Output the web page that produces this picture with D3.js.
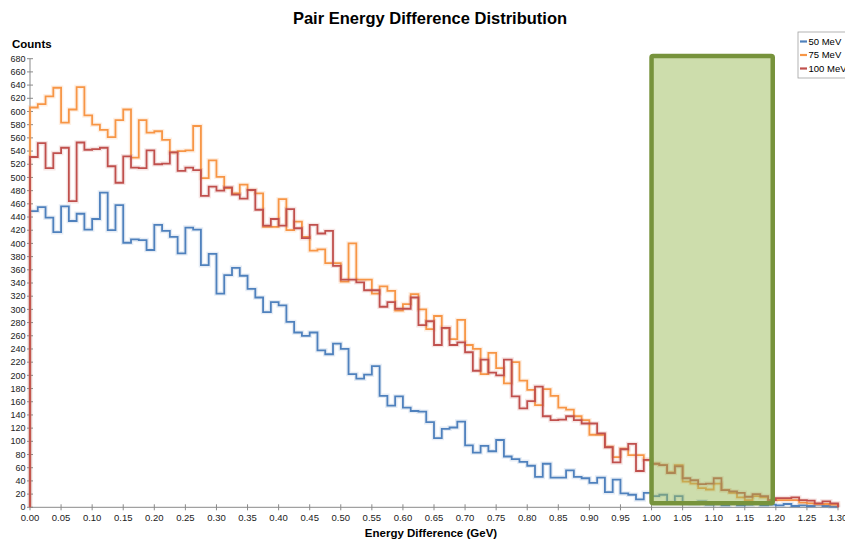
<!DOCTYPE html>
<html>
<head>
<meta charset="utf-8">
<script src="https://cdn.jsdelivr.net/npm/d3@7.9.0/dist/d3.min.js"></script>
<style>
  body { margin: 0; background: #fff; }
  svg { display: block; font-family: "Liberation Sans", Arial, sans-serif; }
</style>
</head>
<body>
<svg id="chart" width="845" height="540"></svg>
<script>
// histogram bins: 104 bins of 0.0125 GeV from 0 to 1.30
const binWidth = 0.0125;

const counts50 = [449, 455, 439, 417, 456, 434, 445, 421, 437, 477, 420, 458, 401, 406, 405, 390, 428, 419, 410, 385,
  424, 421, 367, 384, 324, 352, 363, 351, 331, 318, 296, 311, 306, 281, 265, 260, 265, 238, 232, 248,
  240, 202, 195, 201, 214, 169, 154, 168, 151, 146, 145, 129, 105, 119, 121, 130, 94, 83, 93, 85,
  102, 77, 73, 69, 63, 46, 66, 45, 45, 56, 46, 44, 37, 45, 23, 42, 21, 19, 12, 22,
  17, 19, 8, 17, 6, 5, 9, 4, 5, 3, 6, 3, 4, 6, 3, 4, 3, 5, 2, 3, 2, 4, 2, 1];

const counts75 = [606, 611, 623, 636, 583, 603, 637, 594, 580, 572, 561, 587, 603, 530, 587, 568, 570, 557, 538, 540,
  541, 578, 499, 526, 501, 484, 476, 489, 481, 476, 425, 425, 467, 420, 433, 410, 389, 391, 370, 370,
  342, 400, 345, 345, 324, 335, 328, 298, 308, 323, 300, 270, 290, 272, 255, 284, 246, 240, 202, 234,
  211, 188, 220, 192, 178, 155, 179, 169, 151, 148, 138, 132, 110, 110, 92, 76, 89, 79, 79, 72,
  66, 64, 53, 64, 39, 36, 29, 27, 36, 26, 22, 15, 11, 17, 15, 11, 11, 11, 11, 7, 6, 5, 5, 4];

const counts100 = [531, 552, 514, 537, 545, 464, 553, 542, 543, 545, 517, 492, 532, 515, 514, 541, 520, 521, 538, 510,
  515, 511, 472, 486, 480, 485, 474, 468, 481, 451, 427, 437, 427, 452, 423, 408, 428, 415, 419, 366,
  345, 345, 341, 329, 329, 304, 311, 301, 301, 318, 276, 282, 246, 272, 246, 250, 235, 207, 224, 204,
  200, 224, 168, 150, 161, 183, 138, 132, 133, 138, 132, 127, 127, 112, 91, 68, 88, 96, 55, 72,
  66, 64, 52, 62, 44, 41, 35, 36, 44, 26, 24, 22, 16, 20, 17, 11, 14, 14, 15, 11, 10, 6, 9, 6];

const seriesNames = ['50 MeV', '75 MeV', '100 MeV'];
const seriesColors = ['#4f81bd', '#f79646', '#c0504d'];

const xTicks = d3.range(0, 27).map(i => i * 0.05);
const yTicks = d3.range(0, 35).map(i => i * 20);

// highlighted window drawn on top of the histogram
const highlightX = [1.0, 1.195];
const highlightY = [6, 684];

const svg = d3.select('#chart');
const x = d3.scaleLinear().domain([0, 1.3]).range([30, 838]);
const y = d3.scaleLinear().domain([0, 680]).range([507.3, 58.7]);

// title and axis labels
svg.append('text')
  .attr('x', 430).attr('y', 24)
  .attr('text-anchor', 'middle')
  .attr('font-size', 16.5).attr('font-weight', 'bold')
  .text('Pair Energy Difference Distribution');

svg.append('text')
  .attr('x', 12).attr('y', 48)
  .attr('font-size', 11.5).attr('font-weight', 'bold')
  .text('Counts');

svg.append('text')
  .attr('x', 431).attr('y', 537)
  .attr('text-anchor', 'middle')
  .attr('font-size', 11.5).attr('font-weight', 'bold')
  .text('Energy Difference (GeV)');

// axes
const axisColor = '#8a8a8a';
svg.append('line')
  .attr('x1', x(0)).attr('x2', x(1.3))
  .attr('y1', y(0)).attr('y2', y(0))
  .attr('stroke', axisColor);
svg.append('line')
  .attr('x1', x(0)).attr('x2', x(0))
  .attr('y1', y(0)).attr('y2', y(680))
  .attr('stroke', axisColor);

const yt = svg.append('g').selectAll('g').data(yTicks).join('g')
  .attr('transform', d => `translate(0,${y(d)})`);
yt.append('line').attr('x1', 27).attr('x2', 33).attr('stroke', axisColor);
yt.append('text')
  .attr('x', 25.5).attr('dy', '0.35em')
  .attr('text-anchor', 'end')
  .attr('font-size', 9).attr('fill', '#222')
  .text(d => d);

const xt = svg.append('g').selectAll('g').data(xTicks).join('g')
  .attr('transform', d => `translate(${x(d)},0)`);
xt.append('line').attr('y1', y(0) - 3).attr('y2', y(0) + 3).attr('stroke', axisColor);
xt.append('text')
  .attr('y', 520.5)
  .attr('text-anchor', 'middle')
  .attr('font-size', 9.5).attr('fill', '#222')
  .text(d => d.toFixed(2));

// step histograms
const stepLine = d3.line()
  .x(d => x(d[0]))
  .y(d => y(d[1]))
  .curve(d3.curveStepAfter);

function stepPoints(values) {
  const n = values.length;
  const pts = [[0, 0]];
  values.forEach((v, i) => pts.push([i * binWidth, v]));
  pts.push([n * binWidth, values[n - 1]]);
  pts.push([n * binWidth, 0]);
  return pts;
}

const allSeries = [counts50, counts75, counts100];
const plot = svg.append('g');
allSeries.forEach((vals, i) => {
  const d = stepLine(stepPoints(vals));
  plot.append('path')
    .attr('d', d).attr('fill', 'none')
    .attr('stroke', seriesColors[i]).attr('stroke-width', 4.5)
    .attr('stroke-opacity', 0.15);
  plot.append('path')
    .attr('d', d).attr('fill', 'none')
    .attr('stroke', seriesColors[i]).attr('stroke-width', 1.8)
    .attr('stroke-linejoin', 'miter');
});

// highlight box
svg.append('rect')
  .attr('x', x(highlightX[0]))
  .attr('y', y(highlightY[1]))
  .attr('width', x(highlightX[1]) - x(highlightX[0]))
  .attr('height', y(highlightY[0]) - y(highlightY[1]))
  .attr('rx', 1.5)
  .attr('fill', 'rgba(155,187,89,0.5)')
  .attr('stroke', '#77933c')
  .attr('stroke-width', 4.5);

// legend
const legend = svg.append('g').attr('transform', 'translate(798,32)');
legend.append('rect')
  .attr('width', 60).attr('height', 46)
  .attr('fill', '#fff').attr('stroke', '#a0a0a0').attr('stroke-width', 0.8);
const li = legend.selectAll('g').data(seriesNames).join('g')
  .attr('transform', (d, i) => `translate(0,${9.5 + i * 13.5})`);
li.append('line')
  .attr('x1', 2).attr('x2', 9)
  .attr('stroke', (d, i) => seriesColors[i]).attr('stroke-width', 2.2);
li.append('text')
  .attr('x', 10.5).attr('dy', '0.35em')
  .attr('font-size', 9.5).attr('fill', '#000')
  .text(d => d);
</script>
</body>
</html>
